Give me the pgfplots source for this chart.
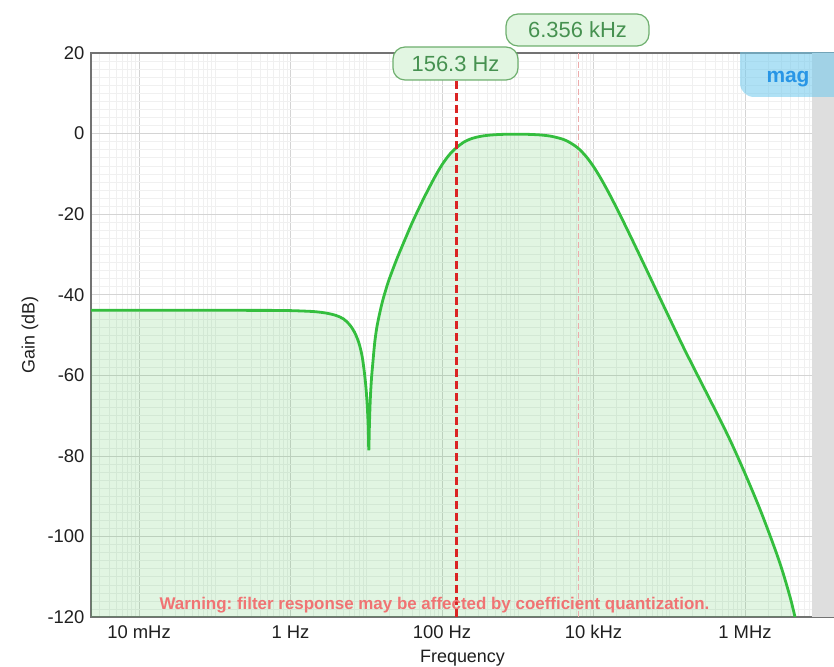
\documentclass[border=0pt]{standalone}
\usepackage{fontspec}
\setmainfont{Liberation Sans}
\usepackage{pgfplots}
\usepackage{pgfplotstable}
\pgfplotsset{compat=1.18}
\usepgfplotslibrary{fillbetween}
\frenchspacing

\definecolor{curvecol}{RGB}{52,190,62}
\definecolor{boxfill}{RGB}{226,246,226}
\definecolor{boxdraw}{RGB}{110,175,110}
\definecolor{boxtext}{RGB}{70,145,80}
\definecolor{cutred}{RGB}{218,36,36}
\definecolor{cutpink}{RGB}{236,172,172}
\definecolor{warnred}{RGB}{240,115,115}
\definecolor{magblue}{RGB}{115,202,237}
\definecolor{magtext}{RGB}{40,150,230}
\definecolor{stripgray}{RGB}{222,222,222}

\pgfplotstableread{
f g
0.002323 -43.88
0.01 -43.88
0.1 -43.88
0.5 -43.89
1 -43.95
2 -44.18
3 -44.58
4 -45.16
5 -46.0
6 -47.4
7 -49.3
8 -52.0
8.8 -55.2
9.4 -59.0
9.9 -63.0
10.3 -67.5
10.6 -72.5
10.8 -78.6
11.0 -72.5
11.3 -66.0
11.7 -61.0
12.2 -57.0
13 -51.5
14 -47.4
16 -42.4
18 -38.94
20 -36.24
25 -31.4
30 -27.8
40 -22.3
50 -18.4
60 -15.35
80 -10.85
100 -7.75
125 -5.25
156.3 -3.45
200 -1.98
250 -1.2
320 -0.7
400 -0.44
500 -0.29
700 -0.17
1000 -0.15
1400 -0.2
2000 -0.35
2800 -0.69
4000 -1.45
5000 -2.35
6356 -3.74
8000 -5.71
10000 -8.19
12500 -11.15
16000 -14.8
20000 -18.33
25000 -21.99
32000 -26.13
40000 -29.93
50000 -33.75
63000 -37.74
80000 -41.87
100000 -45.7
138700 -51.3
160000 -53.7
250000 -60.9
400000 -68.45
630000 -75.95
1000000 -84.38
1600000 -93.56
2500000 -103.25
3200000 -109.25
4000000 -115.55
4570000 -120
}\curvedata

\begin{document}
\begin{tikzpicture}
\begin{axis}[
  at={(91bp,50bp)}, anchor=south west,
  scale only axis, width=743bp, height=564bp,
  xmode=log, xmin=0.002323, xmax=1.496e7,
  ymin=-120, ymax=20,
  ytick={-120,-100,-80,-60,-40,-20,0,20},
  yticklabels={-120,-100,-80,-60,-40,-20,0,20},
  minor ytick={-118,-116,-114,-112,-110,-108,-106,-104,-102,-98,-96,-94,-92,-90,-88,-86,-84,-82,-78,-76,-74,-72,-70,-68,-66,-64,-62,-58,-56,-54,-52,-50,-48,-46,-44,-42,-38,-36,-34,-32,-30,-28,-26,-24,-22,-18,-16,-14,-12,-10,-8,-6,-4,-2,2,4,6,8,10,12,14,16,18},
  xtick={0.01,1,100,10000,1000000},
  xticklabels={10 mHz,1 Hz,100 Hz,10 kHz,1 MHz},
  minor xtick={0.003,0.004,0.005,0.006,0.007,0.008,0.009,
    0.02,0.03,0.04,0.05,0.06,0.07,0.08,0.09,
    0.1,0.2,0.3,0.4,0.5,0.6,0.7,0.8,0.9,
    2,3,4,5,6,7,8,9,
    10,20,30,40,50,60,70,80,90,
    200,300,400,500,600,700,800,900,
    1000,2000,3000,4000,5000,6000,7000,8000,9000,
    20000,30000,40000,50000,60000,70000,80000,90000,
    100000,200000,300000,400000,500000,600000,700000,800000,900000,
    2000000,3000000,4000000,5000000,6000000,7000000,8000000,9000000,10000000},
  grid=both,
  major grid style={color=black!17, line width=0.7bp},
  minor grid style={color=black!6, line width=0.5bp},
  major tick length=0pt, minor tick length=0pt,
  axis line style={color=black!55, line width=1.1bp},
  tick label style={font=\fontsize{18.5}{20}\selectfont, color=black!88},
  xticklabel style={yshift=-5bp},
  yticklabel style={xshift=-3bp},
  xlabel={Frequency}, ylabel={Gain (dB)},
  label style={font=\fontsize{18}{20}\selectfont, color=black!88},
  xlabel style={at={(axis description cs:0.5,-0.0734)}, anchor=center},
  ylabel style={at={(axis description cs:-0.0821,0.5)}, anchor=center},
]
\fill[stripgray] (axis cs:7.66e6,-120) rectangle (axis cs:1.496e7,20);
\addplot[cutpink, line width=1.1bp, dash pattern=on 6bp off 3bp] coordinates {(6356,-120) (6356,20)};
\addplot[name path=curve, draw=none, smooth] table[x=f,y=g] {\curvedata};
\path[name path=bottom] (axis cs:0.002323,-120) -- (axis cs:1.496e7,-120);
\addplot[fill=curvecol, fill opacity=0.15, draw=none] fill between[of=curve and bottom];
\addplot[curvecol, line width=2.8bp, smooth] table[x=f,y=g] {\curvedata};
\addplot[cutred, line width=2.5bp, dash pattern=on 8bp off 4bp] coordinates {(156.3,-120) (156.3,14)};
\end{axis}

% mag box
\begin{scope}
\clip (740bp,570bp) rectangle (834bp,614bp);
\fill[magblue, fill opacity=0.57, rounded corners=14bp] (740bp,570bp) rectangle (900bp,660bp);
\end{scope}
\node[anchor=base, text=magtext, font=\bfseries\fontsize{21}{24}\selectfont] at (788bp,584bp) {mag};

% cutoff labels
\node[draw=boxdraw, fill=boxfill, rounded corners=12bp, line width=1.2bp, minimum width=125bp, minimum height=33bp, inner sep=0pt, text=boxtext, font=\fontsize{22}{24}\selectfont] at (455.5bp,603.5bp) {156.3 Hz};
\node[draw=boxdraw, fill=boxfill, rounded corners=12bp, line width=1.2bp, minimum width=143bp, minimum height=32bp, inner sep=0pt, text=boxtext, font=\fontsize{22}{24}\selectfont] at (577.5bp,637bp) {6.356 kHz};

% warning
\node[anchor=base, text=warnred, font=\bfseries\fontsize{17}{20}\selectfont] at (434.5bp,57bp) {Warning: filter response may be affected by coefficient quantization.};

\pgfresetboundingbox
\path[use as bounding box] (0,0) rectangle (834bp,667bp);
\end{tikzpicture}
\end{document}
